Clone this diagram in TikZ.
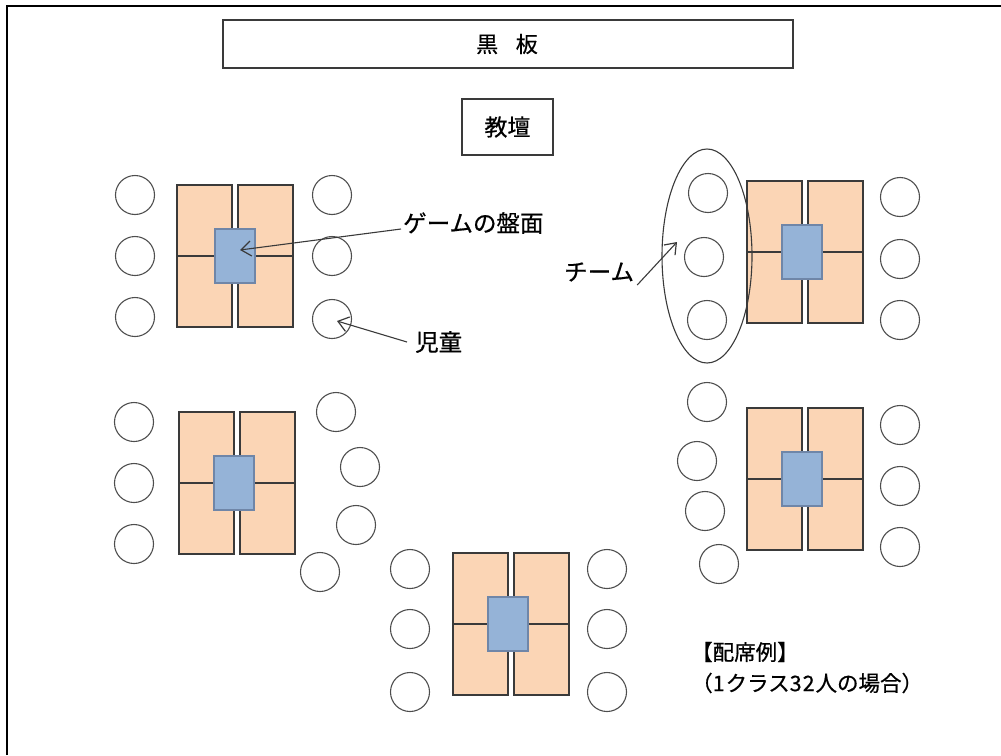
\documentclass[tikz,border=0pt]{standalone}
\usepackage{fontspec}
\newfontfamily\jp[FakeBold=0.6]{Noto Sans CJK JP}
\usetikzlibrary{arrows.meta,shapes.geometric}
\definecolor{deskfill}{HTML}{FBD5B5}
\definecolor{boardfill}{HTML}{95B3D7}
\definecolor{boardline}{HTML}{6F86A8}
\definecolor{edge}{HTML}{3A3A3A}
\tikzset{
  desk/.style={draw=edge,fill=deskfill,line width=1.1pt},
  game/.style={draw=boardline,fill=boardfill,line width=1.1pt,inner sep=0pt,minimum width=40pt,minimum height=54pt},
  seat/.style={circle,draw=edge!90,line width=1.1pt,minimum size=39pt,inner sep=0pt},
  label/.style={font=\jp\fontsize{23.5}{27}\selectfont,inner sep=0pt,anchor=west},
  note/.style={font=\jp\fontsize{21.5}{25}\selectfont,inner sep=0pt,anchor=west},
  box/.style={draw=edge,line width=1.1pt,inner sep=0pt},
  pointer/.style={draw=edge,line width=1.1pt,-{Straight Barb[length=10pt,width=15pt,line width=1.2pt]}}
}
\newcommand{\deskgroup}[4]{% name, x0, y0, blue center x offset
  \path[desk] (#2,#3) rectangle ++(55,71);
  \path[desk] (#2,#3+71) rectangle ++(55,71);
  \path[desk] (#2+61,#3) rectangle ++(55,71);
  \path[desk] (#2+61,#3+71) rectangle ++(55,71);
  \node[game] (#1) at (#2+#4,#3+71) {};
}
\begin{document}
\begin{tikzpicture}[x=1pt,y=-1pt]
\useasboundingbox (0,0) rectangle (1001,755);
% frame (left and top edges only visible)
\draw[line width=2pt,black] (7,755) -- (7,6) -- (1001,6);
% blackboard and teacher's platform
\node[box,minimum width=570pt,minimum height=48pt] (board) at (508,44) {};
\node[font=\jp\fontsize{22}{26}\selectfont] (boardtext) at (507,44) {黒\hspace{0.8em}板};
\node[box,minimum width=91pt,minimum height=56pt] (podium) at (507.5,127) {};
\node[font=\jp\fontsize{23}{27}\selectfont] (podiumtext) at (507.5,127) {教壇};
% desk groups
\deskgroup{g1}{177}{185}{58}
\deskgroup{g2}{747}{181}{55}
\deskgroup{g3}{179}{412}{55}
\deskgroup{g5}{747}{408}{55}
\deskgroup{g4}{453}{553}{55}
% seats group 1
\node[seat] (s11) at (135,195) {};
\node[seat] (s12) at (135,256) {};
\node[seat] (s13) at (135,317) {};
\node[seat] (s14) at (332,195) {};
\node[seat] (s15) at (332,256) {};
\node[seat] (s16) at (332,319) {};
% seats group 2
\node[seat] (s21) at (708,193) {};
\node[seat] (s22) at (704,257) {};
\node[seat] (s23) at (707,320) {};
\node[seat] (s24) at (900,197) {};
\node[seat] (s25) at (900,259) {};
\node[seat] (s26) at (900,320) {};
% seats group 3
\node[seat] (s31) at (134,422) {};
\node[seat] (s32) at (134,483) {};
\node[seat] (s33) at (134,544) {};
\node[seat] (s34) at (336,412) {};
\node[seat] (s35) at (360,467) {};
\node[seat] (s36) at (356,525) {};
\node[seat] (s37) at (320,572) {};
% seats group 5
\node[seat] (s51) at (707,402) {};
\node[seat] (s52) at (697,461) {};
\node[seat] (s53) at (705,511) {};
\node[seat] (s54) at (719,564) {};
\node[seat] (s55) at (900,425) {};
\node[seat] (s56) at (900,486) {};
\node[seat] (s57) at (900,547) {};
% seats group 4
\node[seat] (s41) at (410,569) {};
\node[seat] (s42) at (410,629) {};
\node[seat] (s43) at (410,692) {};
\node[seat] (s44) at (607,569) {};
\node[seat] (s45) at (607,629) {};
\node[seat] (s46) at (607,692) {};
% team ellipse
\node[ellipse,draw=edge,line width=1.1pt,minimum width=90pt,minimum height=214pt,inner sep=0pt] (team) at (707,256) {};
% labels
\node[label] (lgame) at (403,223) {ゲームの盤面};
\node[label] (lchild) at (415,342) {児童};
\node[label] (lteam) at (564,272) {チーム};
\coordinate (tgame) at (240,250);
\coordinate (tchild) at (337,321);
\coordinate (tteam) at (677,242);
\draw[pointer] ([xshift=-2pt,yshift=-6pt]lgame.west) -- (tgame);
\draw[pointer] ([xshift=-8pt,yshift=0pt]lchild.west) -- (tchild);
\draw[pointer] ([xshift=3pt,yshift=-13pt]lteam.east) -- (tteam);
% note
\node[note] (note1) at (691,652) {【配席例】};
\node[note] (note2) at (691,683) {（1\kern1pt クラス3\kern1pt 2\kern1pt 人の場合）};
\end{tikzpicture}
\end{document}
